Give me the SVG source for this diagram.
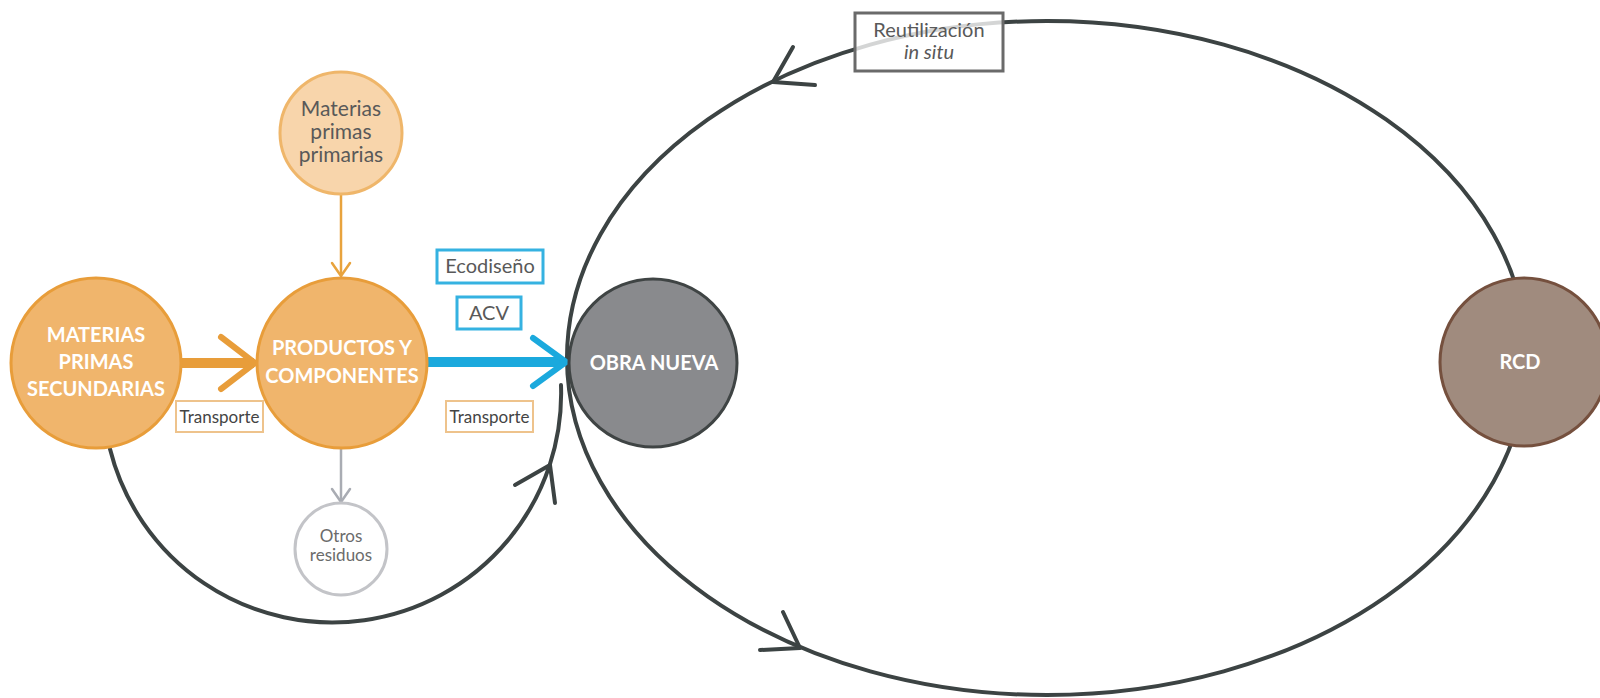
<svg xmlns="http://www.w3.org/2000/svg" width="1600" height="698" viewBox="0 0 1600 698">
<style>
  text { font-family: Lato, "Open Sans", "Liberation Sans", sans-serif; text-anchor: middle; }
  .bold { font-weight: bold; fill: #ffffff; font-size: 20px; }
  .dark { fill: #595959; }
  .cycle { fill: none; stroke: #3c4343; stroke-width: 4; stroke-linecap: round; stroke-linejoin: round; }
  .orange-node { fill: #f0b56c; stroke: #e89d3a; stroke-width: 3; }
  .blue-box { fill: #ffffff; stroke: #35b2e1; stroke-width: 3; }
  .orange-box { fill: #ffffff; stroke: #eec38c; stroke-width: 2; }
</style>

<g id="connectors">
  <!-- big cycle ellipse -->
  <ellipse class="cycle" cx="1047" cy="358" rx="480" ry="337"/>
  <polyline class="cycle" points="793,47 773,82 815,85"/>
  <polyline class="cycle" points="783,612 800,648 760,650"/>
  <!-- arc from secondary raw materials to new build -->
  <path class="cycle" d="M 110 449 A 229 229 0 0 0 561 385"/>
  <polyline class="cycle" points="515,485 550,465 555,503"/>
  <!-- MPS -> PYC -->
  <line x1="180" y1="363" x2="254" y2="363" stroke="#e89d3a" stroke-width="10"/>
  <polyline points="221,337 255,363 221,389" fill="none" stroke="#e89d3a" stroke-width="6" stroke-linecap="round" stroke-linejoin="round"/>
  <!-- PYC -> OBRA NUEVA -->
  <line x1="425" y1="362" x2="564" y2="362" stroke="#1ba9dd" stroke-width="10"/>
  <polyline points="533,338 566,362 533,386" fill="none" stroke="#1ba9dd" stroke-width="6" stroke-linecap="round" stroke-linejoin="round"/>
  <!-- MPP -> PYC -->
  <line x1="341" y1="194" x2="341" y2="275" stroke="#e8a33d" stroke-width="2.5"/>
  <polyline points="332,263 341,276 350,263" fill="none" stroke="#e8a33d" stroke-width="2.5" stroke-linecap="round" stroke-linejoin="round"/>
  <!-- PYC -> Otros residuos -->
  <line x1="341" y1="449" x2="341" y2="501" stroke="#a9acb3" stroke-width="2.5"/>
  <polyline points="332,489 341,502 350,489" fill="none" stroke="#a9acb3" stroke-width="2.5" stroke-linecap="round" stroke-linejoin="round"/>
</g>

<g id="reutilizacion">
  <rect x="855" y="13" width="148" height="58" fill="#ffffff" fill-opacity="0.78" stroke="#6a6a6a" stroke-width="3"/>
  <text x="929" y="37" font-size="20" class="dark">Reutilización</text>
  <text x="929" y="59" font-size="20" font-style="italic" class="dark">in situ</text>
</g>

<g id="materias-primas-primarias">
  <circle cx="341" cy="133" r="61" fill="#f8d5ab" stroke="#efb66a" stroke-width="3"/>
  <text x="341" y="116" font-size="21" class="dark">Materias</text>
  <text x="341" y="139" font-size="21" class="dark">primas</text>
  <text x="341" y="162" font-size="21" class="dark">primarias</text>
</g>

<g id="materias-primas-secundarias">
  <circle class="orange-node" cx="96" cy="363" r="85"/>
  <text class="bold" x="96" y="342">MATERIAS</text>
  <text class="bold" x="96" y="369">PRIMAS</text>
  <text class="bold" x="96" y="396">SECUNDARIAS</text>
</g>

<g id="productos-componentes">
  <circle class="orange-node" cx="342" cy="363" r="85"/>
  <text class="bold" x="342" y="355">PRODUCTOS Y</text>
  <text class="bold" x="342" y="383">COMPONENTES</text>
</g>

<g id="otros-residuos">
  <circle cx="341" cy="549" r="46" fill="#ffffff" stroke="#c3c4c8" stroke-width="3"/>
  <text x="341" y="542" font-size="17" fill="#6b6b6b">Otros</text>
  <text x="341" y="561" font-size="17" fill="#6b6b6b">residuos</text>
</g>

<g id="obra-nueva">
  <circle cx="653" cy="363" r="84" fill="#898a8d" stroke="#3f4444" stroke-width="3"/>
  <text class="bold" x="654" y="370">OBRA NUEVA</text>
</g>

<g id="rcd">
  <circle cx="1524" cy="362" r="84" fill="#a08b7e" stroke="#75503e" stroke-width="3"/>
  <text class="bold" x="1520" y="369">RCD</text>
</g>

<g id="ecodiseno">
  <rect class="blue-box" x="437" y="250" width="106" height="33"/>
  <text x="490" y="273" font-size="20" class="dark">Ecodiseño</text>
</g>

<g id="acv">
  <rect class="blue-box" x="457" y="297" width="64" height="32"/>
  <text x="489" y="320" font-size="20" class="dark">ACV</text>
</g>

<g id="transporte-1">
  <rect class="orange-box" x="176" y="401" width="87" height="31"/>
  <text x="219.5" y="423" font-size="17" fill="#444444">Transporte</text>
</g>

<g id="transporte-2">
  <rect class="orange-box" x="446" y="401" width="87" height="31"/>
  <text x="489.5" y="423" font-size="17" fill="#444444">Transporte</text>
</g>
</svg>
